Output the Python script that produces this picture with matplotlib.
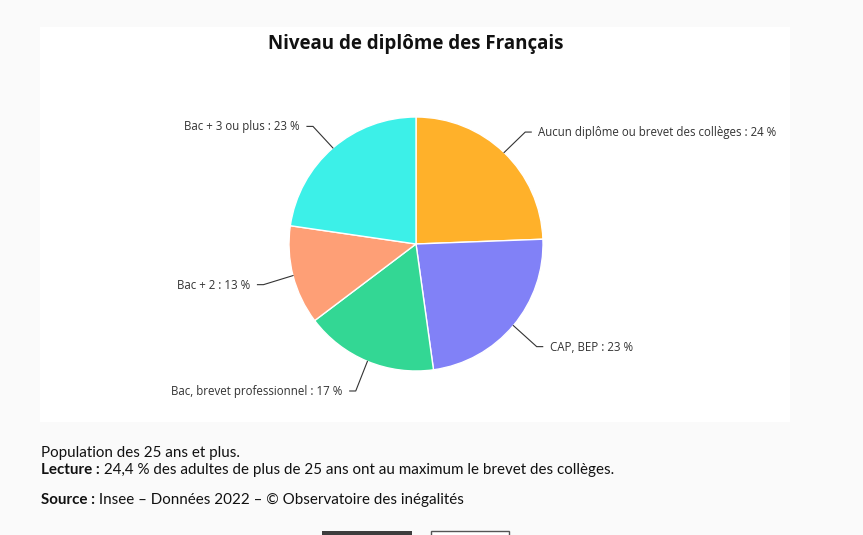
import matplotlib
matplotlib.use("Agg")
import matplotlib.pyplot as plt
import numpy as np
from matplotlib.patches import Rectangle

# ---- data ----
categories = ["Aucun diplôme ou brevet des collèges", "CAP, BEP",
              "Bac, brevet professionnel", "Bac + 2", "Bac + 3 ou plus"]
values = [24.4, 23.4, 16.9, 12.6, 22.7]
label_pcts = [24, 23, 17, 13, 23]
colors = ["#ffb12a", "#8181f7", "#33d794", "#fe9f76", "#3cf0e8"]

title = "Niveau de diplôme des Français"
note1 = "Population des 25 ans et plus."
lecture_b = "Lecture :"
lecture_t = " 24,4 % des adultes de plus de 25 ans ont au maximum le brevet des collèges."
source_b = "Source :"
source_t = " Insee – Données 2022 – © Observatoire des inégalités"

W, H = 863, 535
fig = plt.figure(figsize=(W / 100, H / 100), dpi=100, facecolor="#fafafa")

def fx(px):
    return px / W

def fy(py):
    return 1 - py / H

# white chart panel
fig.patches.append(Rectangle((fx(40), fy(422)), fx(750), 395 / H, transform=fig.transFigure,
                             facecolor="white", edgecolor="none", zorder=-5))

cx, cy, r = 416, 244, 127
ax = fig.add_axes([fx(cx - r), fy(cy + r), 2 * r / W, 2 * r / H])
ax.set_zorder(2)
ax.patch.set_visible(False)
wedges, _ = ax.pie(values, colors=colors, startangle=90, counterclock=False, radius=1,
                   wedgeprops=dict(linewidth=1, edgecolor="white"))
ax.set_xlim(-1, 1)
ax.set_ylim(-1, 1)
ax.set_aspect("equal")
ax.axis("off")

lab_font = dict(family=["Open Sans", "DejaVu Sans"], size=8.3, color="#333333")
px = 1 / r
for w, cat, p in zip(wedges, categories, label_pcts):
    th = np.deg2rad((w.theta1 + w.theta2) / 2)
    c, s = np.cos(th), np.sin(th)
    x0, y0 = c, s
    x1, y1 = 1.24 * c, 1.24 * s - 1.5 * px
    side = 1 if c >= 0 else -1
    x2 = x1 + side * 6 * px
    ax.plot([x0, x1, x2], [y0, y1, y1], color="#333333", lw=0.8, clip_on=False,
            solid_joinstyle="miter")
    ax.text(x2 + side * 7 * px, y1 - 0.5 * px, f"{cat} : {p} %", ha="left" if side > 0 else "right",
            va="center", clip_on=False, **lab_font)

fig.text(fx(416), fy(44), title, ha="center", va="center",
         family=["Open Sans", "DejaVu Sans"], weight="bold", size=13.5, color="#111111")

foot = dict(family=["Lato", "DejaVu Sans"], size=10.9, color="#111111")
fig.text(fx(41), fy(453), note1, ha="left", va="center", **foot)
renderer = fig.canvas.get_renderer()
for yb, bt, nt in [(470, lecture_b, lecture_t), (500, source_b, source_t)]:
    tb = fig.text(fx(41), fy(yb), bt, ha="left", va="center", weight="bold", **foot)
    ext = tb.get_window_extent(renderer)
    fig.text(ext.x1 / W, fy(yb), nt, ha="left", va="center", **foot)

# bottom buttons (partially visible)
fig.patches.append(Rectangle((fx(322), 0), fx(90), 4.5 / H, transform=fig.transFigure,
                             facecolor="#3d3d3d", edgecolor="none"))
fig.patches.append(Rectangle((fx(430.5), -0.01), fx(78), 4.5 / H + 0.01, transform=fig.transFigure,
                             facecolor="white", edgecolor="#555555", lw=1))

fig.savefig("out.png", dpi=100, facecolor=fig.get_facecolor())
